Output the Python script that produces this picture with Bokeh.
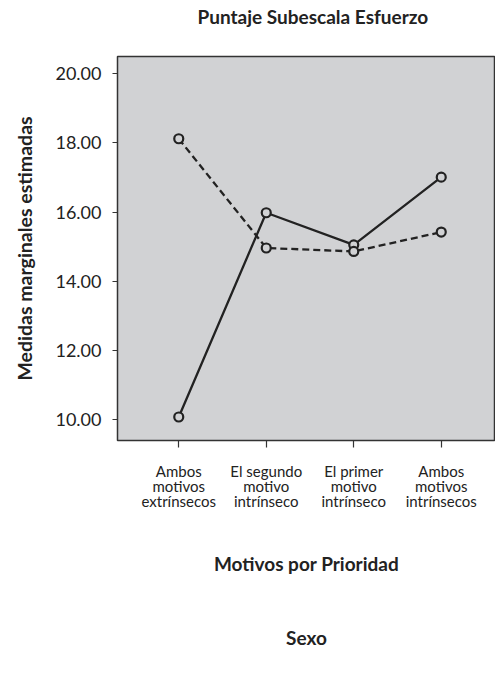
from bokeh.plotting import figure
from bokeh.models import (FixedTicker, Range1d, Legend, LegendItem,
                          NumeralTickFormatter)
from bokeh.embed import file_html
from bokeh.resources import INLINE

categories = ["Ambos\nmotivos\nextrínsecos", "El segundo\nmotivo\nintrínseco",
              "El primer\nmotivo\nintrínseco", "Ambos\nmotivos\nintrínsecos"]
hombre = [10.07, 15.98, 15.05, 17.01]
mujer = [18.12, 14.96, 14.86, 15.42]
y_ticks = [10, 12, 14, 16, 18, 20]
series_names = ["Hombre", "Mujer"]
chart_title = "Puntaje Subescala Esfuerzo"
x_title = "Motivos por Prioridad"
y_title = "Medidas marginales estimadas"
legend_title = "Sexo"

FONT = "Lato"
INK = "#222222"

xs = list(range(len(categories)))

p = figure(frame_width=378, frame_height=384, output_backend="svg",
           toolbar_location=None,
           x_range=Range1d(-0.70, 3.62), y_range=Range1d(9.39, 20.50),
           min_border_left=117, min_border_right=0, min_border_top=56,
           min_border_bottom=0)

p.background_fill_color = "#d1d2d4"
p.border_fill_color = "white"
p.outline_line_color = "#333333"
p.outline_line_width = 1.5
p.xgrid.visible = False
p.ygrid.visible = False

# title: an empty second line lifts it to the top of the page
p.title.text = chart_title + "\n"
p.title.align = "left"
p.title.offset = 80
p.title.vertical_align = "top"
p.title.text_font = FONT
p.title.text_font_size = "19px"
p.title.text_font_style = "bold"
p.title.text_color = INK
p.title.standoff = 8

# axes
p.yaxis.ticker = FixedTicker(ticks=y_ticks)
p.yaxis.formatter = NumeralTickFormatter(format="0.00")
p.yaxis.axis_label = y_title
p.xaxis.ticker = FixedTicker(ticks=xs)
p.xaxis.major_label_overrides = {i: c for i, c in enumerate(categories)}
# the legend heading sits centred below the x title, as in the reference
p.xaxis.axis_label = x_title + "\n\n\n" + legend_title

for ax in (p.xaxis[0], p.yaxis[0]):
    ax.axis_line_color = None
    ax.minor_tick_line_color = None
    ax.major_tick_in = 0
    ax.major_tick_line_color = "#333333"
    ax.major_tick_line_width = 1.2
    ax.major_label_text_font = FONT
    ax.major_label_text_color = INK
    ax.axis_label_text_font = FONT
    ax.axis_label_text_font_style = "bold"
    ax.axis_label_text_font_size = "19px"
    ax.axis_label_text_color = INK

p.yaxis.axis_label_text_font_size = "19.5px"
p.yaxis.major_label_text_font_size = "18px"
p.yaxis.major_tick_out = 5
p.yaxis.major_label_standoff = 11
p.yaxis.axis_label_standoff = 16

p.xaxis.major_label_text_font_size = "15px"
p.xaxis.major_label_text_line_height = 0.85
p.xaxis.major_tick_out = 7
p.xaxis.major_label_standoff = 14
p.xaxis.axis_label_standoff = 39
p.xaxis.axis_label_text_line_height = 1.066

# series
h_line = p.line(xs, hombre, line_color=INK, line_width=2.3)
h_pts = p.scatter(xs, hombre, marker="circle", size=9, fill_color="#d1d2d4",
                  line_color=INK, line_width=2.2)
m_line = p.line(xs, mujer, line_color=INK, line_width=2.3, line_dash="7 4")
m_pts = p.scatter(xs, mujer, marker="circle", size=9, fill_color="#d1d2d4",
                  line_color=INK, line_width=2.2)

legend = Legend(items=[LegendItem(label=series_names[0], renderers=[h_line]),
                       LegendItem(label=series_names[1], renderers=[m_line])],
                orientation="horizontal", location=(20, 0),
                spacing=100, glyph_width=30, glyph_height=20, label_height=20,
                label_standoff=9,
                label_text_font=FONT, label_text_font_size="18px",
                label_text_color=INK, border_line_color=None,
                background_fill_alpha=0, margin=0, padding=0)
p.add_layout(legend, "below")

open("out.html", "w").write(file_html(p, INLINE))
